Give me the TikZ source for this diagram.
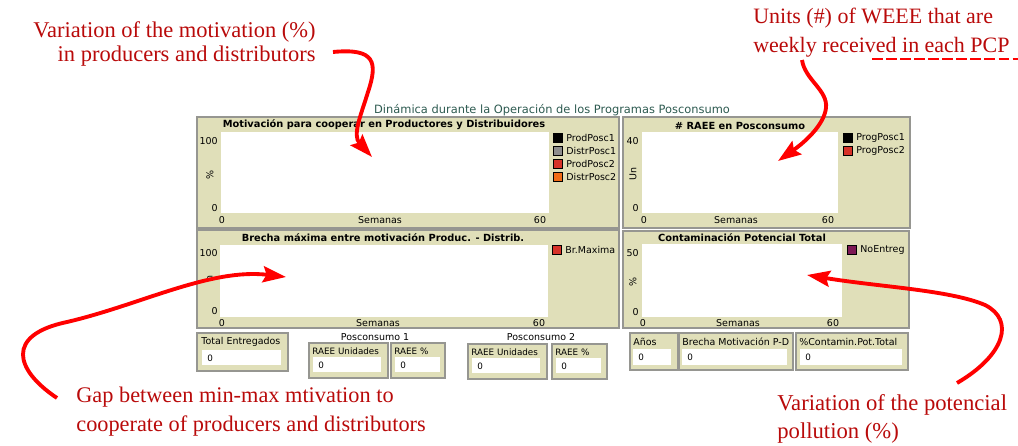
\documentclass[tikz,border=0pt]{standalone}
\usepackage{fontspec}
\setmainfont{Liberation Serif}
\newfontfamily\guifont{DejaVu Sans}
\usepackage{tikz}
\usetikzlibrary{arrows.meta}

\definecolor{panelbg}{RGB}{224,223,185}
\definecolor{framegray}{RGB}{150,150,145}
\definecolor{titleteal}{RGB}{45,90,80}
\definecolor{notered}{RGB}{185,10,10}
\definecolor{legred}{RGB}{215,50,41}
\definecolor{legorange}{RGB}{241,106,21}
\definecolor{leggray}{RGB}{141,141,141}
\definecolor{legpurple}{RGB}{125,25,85}

\begin{document}
\begin{tikzpicture}[x=0.02cm,y=-0.02cm]
	\tikzstyle{frame}=[draw=framegray,line width=0.9pt,fill=panelbg]
	\tikzstyle{plotarea}=[fill=white]
	\tikzstyle{lbl}=[font=\guifont\fontsize{5.4}{6.4}\selectfont,inner sep=0pt]
	\tikzstyle{ttl}=[font=\guifont\bfseries\fontsize{5.6}{6.4}\selectfont,inner sep=0pt]
	\tikzstyle{mlbl}=[font=\guifont\fontsize{5.0}{5.5}\selectfont,inner sep=0pt,anchor=west]
	\tikzstyle{swatch}=[draw=black,line width=0.5pt,minimum size=0.19cm,inner sep=0pt]
	\tikzstyle{note}=[text=notered,inner sep=0pt]
	\tikzstyle{callout}=[draw=red,line width=2.2pt,-{Stealth[length=0.46cm,width=0.32cm,inset=0.07cm]}]
	\useasboundingbox (0,0) rectangle (1018,446);

	% title
	\node[lbl,text=titleteal,font=\guifont\fontsize{6.5}{7}\selectfont] (main-title) at (552,110) {Dinámica durante la Operación de los Programas Posconsumo};

	% frames and plot areas
	\draw[frame] (197,117) rectangle (619,228);
	\fill[plotarea] (221,132) rectangle (549,213);
	\draw[frame] (623,117) rectangle (910,228);
	\fill[plotarea] (642,132) rectangle (838,213);
	\draw[frame] (197,230) rectangle (619,328);
	\fill[plotarea] (220,245) rectangle (548,317);
	\draw[frame] (623,231) rectangle (909,328);
	\fill[plotarea] (642,244) rectangle (842,317);

	% motivation plot
	\node[ttl] (mot-title) at (384,125) {Motivación para cooperar en Productores y Distribuidores};
	\node[lbl,anchor=east] (mot-ymax) at (218,141) {100};
	\node[lbl,anchor=east] (mot-ymin) at (218,208) {0};
	\node[lbl,rotate=90] (mot-ylab) at (210,175) {\%};
	\node[lbl] (mot-xmin) at (222,220) {0};
	\node[lbl] (mot-xlab) at (380,220) {Semanas};
	\node[lbl] (mot-xmax) at (540,220) {60};
	\node[swatch,fill=black] (mot-s0) at (558,138) {};
	\node[swatch,fill=leggray] (mot-s1) at (558,151) {};
	\node[swatch,fill=legred] (mot-s2) at (558,164) {};
	\node[swatch,fill=legorange] (mot-s3) at (558,177) {};
	\node[lbl,anchor=west] (mot-l0) at (566,138) {ProdPosc1};
	\node[lbl,anchor=west] (mot-l1) at (566,151) {DistrPosc1};
	\node[lbl,anchor=west] (mot-l2) at (566,164) {ProdPosc2};
	\node[lbl,anchor=west] (mot-l3) at (566,177) {DistrPosc2};

	% raee plot
	\node[ttl] (raee-title) at (740,126) {\# RAEE en Posconsumo};
	\node[lbl,anchor=east] (raee-ymax) at (639,141) {40};
	\node[lbl,anchor=east] (raee-ymin) at (639,208) {0};
	\node[lbl,rotate=90] (raee-ylab) at (633,174) {Un};
	\node[lbl] (raee-xmin) at (644,220) {0};
	\node[lbl] (raee-xlab) at (736,220) {Semanas};
	\node[lbl] (raee-xmax) at (828,220) {60};
	\node[swatch,fill=black] (raee-s0) at (848,138) {};
	\node[swatch,fill=legred] (raee-s1) at (848,151) {};
	\node[lbl,anchor=west] (raee-l0) at (856,138) {ProgPosc1};
	\node[lbl,anchor=west] (raee-l1) at (856,151) {ProgPosc2};

	% gap plot
	\node[ttl] (gap-title) at (383,238) {Brecha máxima entre motivación Produc. - Distrib.};
	\node[lbl,anchor=east] (gap-ymax) at (218,253) {100};
	\node[lbl,anchor=east] (gap-ymin) at (218,311) {0};
	\node[lbl,rotate=90] (gap-ylab) at (210,278) {n};
	\node[lbl] (gap-xmin) at (222,323) {0};
	\node[lbl] (gap-xlab) at (378,323) {Semanas};
	\node[lbl] (gap-xmax) at (539,323) {60};
	\node[swatch,fill=legred] (gap-s0) at (557,250) {};
	\node[lbl,anchor=west] (gap-l0) at (565,250) {Br.Maxima};

	% pollution plot
	\node[ttl] (pol-title) at (742,238) {Contaminación Potencial Total};
	\node[lbl,anchor=east] (pol-ymax) at (639,253) {50};
	\node[lbl,anchor=east] (pol-ymin) at (639,312) {0};
	\node[lbl,rotate=90] (pol-ylab) at (633,282) {\%};
	\node[lbl] (pol-xmin) at (643,323) {0};
	\node[lbl] (pol-xlab) at (738,323) {Semanas};
	\node[lbl] (pol-xmax) at (833,323) {60};
	\node[swatch,fill=legpurple] (pol-s0) at (852,250) {};
	\node[lbl,anchor=west] (pol-l0) at (860,250) {NoEntreg};

	% monitors
	\draw[frame] (197,333) rectangle (288,371);
	\fill[plotarea] (202,350) rectangle (281,365);
	\node[lbl,anchor=west] (tot-lab) at (201,342) {Total Entregados};
	\node[mlbl] (tot-val) at (207,358) {0};

	\node[lbl] (pc1-lab) at (375,337) {Posconsumo 1};
	\draw[frame] (309,343) rectangle (388,378);
	\fill[plotarea] (313,357) rectangle (381,372);
	\node[mlbl] (pc1u-lab) at (312,351) {RAEE Unidades};
	\node[mlbl] (pc1u-val) at (318,365) {0};
	\draw[frame] (391,343) rectangle (445,378);
	\fill[plotarea] (395,357) rectangle (440,372);
	\node[mlbl] (pc1p-lab) at (394,351) {RAEE \%};
	\node[mlbl] (pc1p-val) at (400,365) {0};

	\node[lbl] (pc2-lab) at (541,337) {Posconsumo 2};
	\draw[frame] (468,344) rectangle (547,379);
	\fill[plotarea] (472,358) rectangle (540,373);
	\node[mlbl] (pc2u-lab) at (471,352) {RAEE Unidades};
	\node[mlbl] (pc2u-val) at (477,366) {0};
	\draw[frame] (552,344) rectangle (607,379);
	\fill[plotarea] (556,358) rectangle (601,373);
	\node[mlbl] (pc2p-lab) at (555,352) {RAEE \%};
	\node[mlbl] (pc2p-val) at (561,366) {0};

	\draw[frame] (630,333) rectangle (678,370);
	\fill[plotarea] (633,349) rectangle (671,365);
	\node[lbl,anchor=west] (yr-lab) at (633,342) {Años};
	\node[mlbl] (yr-val) at (638,357) {0};
	\draw[frame] (679,333) rectangle (793,370);
	\fill[plotarea] (682,349) rectangle (787,365);
	\node[lbl,anchor=west] (bm-lab) at (682,342) {Brecha Motivación P-D};
	\node[mlbl] (bm-val) at (687,357) {0};
	\draw[frame] (796,333) rectangle (908,370);
	\fill[plotarea] (800,349) rectangle (902,365);
	\node[lbl,anchor=west] (cp-lab) at (799,342) {\%Contamin.Pot.Total};
	\node[mlbl] (cp-val) at (805,357) {0};

	% notes
	\node[note,align=right,anchor=east,font=\fontsize{12.8}{14.2}\selectfont] (note-mot) at (316,44) {Variation of the motivation (\%)\\in producers and distributors};
	\node[note,align=left,anchor=west,font=\fontsize{12.5}{16.4}\selectfont] (note-raee) at (753,33) {Units (\#) of WEEE that are\\weekly received in each PCP};
	\node[note,align=left,anchor=west,font=\fontsize{12.7}{16.4}\selectfont] (note-gap) at (76,412) {Gap between min-max mtivation to\\cooperate of producers and distributors};
	\node[note,align=left,anchor=west,font=\fontsize{12.9}{15.6}\selectfont] (note-pol) at (777,419) {Variation of the potencial\\pollution (\%)};

	% callouts
	\coordinate (mot-start) at (333,52);
	\coordinate (mot-tip) at (372,157);
	\coordinate (raee-start) at (802,60);
	\coordinate (raee-tip) at (778,161);
	\coordinate (gap-start) at (57,398);
	\coordinate (gap-tip) at (286,277);
	\coordinate (pol-start) at (957,383);
	\coordinate (pol-tip) at (807,275);
	\coordinate (dash-a) at (872,59);
	\coordinate (dash-b) at (1018,59);

	\draw[callout] (mot-start) .. controls (375,48) and (378,62) .. (368,92) .. controls (361,115) and (352,135) .. (mot-tip);
	\draw[callout] (raee-start) .. controls (805,80) and (828,90) .. (826,108) .. controls (824,125) and (805,142) .. (raee-tip);
	\draw[callout] (gap-start) .. controls (15,370) and (5,335) .. (67,322) .. controls (140,305) and (210,268) .. (gap-tip);
	\draw[callout] (pol-start) .. controls (1005,355) and (1015,320) .. (985,305) .. controls (950,290) and (880,287) .. (pol-tip);
	\draw[draw=red,line width=1pt,dash pattern=on 6pt off 2pt] (dash-a) -- (dash-b);
\end{tikzpicture}
\end{document}
